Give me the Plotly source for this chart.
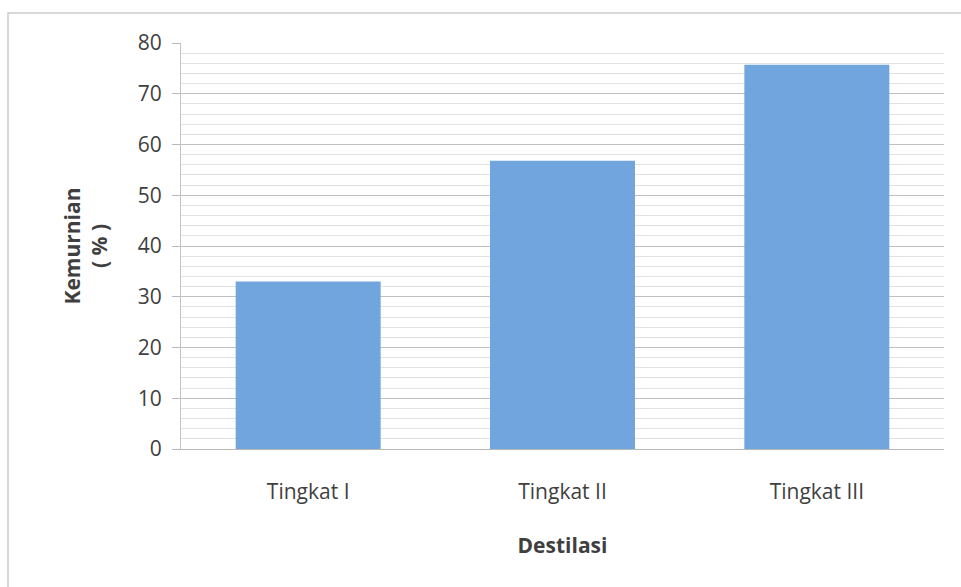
import plotly.graph_objects as go

categories = ["Tingkat I", "Tingkat II", "Tingkat III"]
kemurnian = [33.0, 56.8, 75.7]
y_ticks = [0, 10, 20, 30, 40, 50, 60, 70, 80]

W, H = 961, 587
fig = go.Figure()
fig.add_trace(go.Bar(
    x=categories, y=kemurnian,
    marker=dict(color="#71a5de", line=dict(width=0)),
    width=0.57,
))

font_family = "Open Sans, Liberation Sans, sans-serif"
txt = "#3f3f3f"
fig.update_layout(
    width=W, height=H,
    margin=dict(l=181, r=17, t=43, b=138),
    plot_bgcolor="white", paper_bgcolor="white",
    showlegend=False,
    font=dict(family=font_family, color=txt),
    xaxis=dict(
        showline=True, linecolor="#b8b8b8", linewidth=1,
        ticks="", tickfont=dict(size=21, color=txt),
        title=dict(text="<b>Destilasi</b>", font=dict(size=21, color=txt), standoff=34),
        ticklabelstandoff=24,
    ),
    yaxis=dict(
        range=[0, 80], tickvals=y_ticks,
        showline=True, linecolor="#c4c4c4", linewidth=1,
        ticks="outside", ticklen=8, tickcolor="#b8b8b8",
        tickfont=dict(size=21, color=txt),
        ticklabelstandoff=6,
        showgrid=True, gridcolor="#c0c0c0", gridwidth=1,
        minor=dict(dtick=2, showgrid=True, gridcolor="#e2e2e2", gridwidth=1, ticks=""),
        zeroline=False,
        title=dict(text="<b>Kemurnian<br>( % )</b>", font=dict(size=21, color=txt), standoff=24),
    ),
    shapes=[dict(
        type="rect", xref="paper", yref="paper",
        x0=(8 - 181) / (W - 181 - 17), x1=(970 - 181) / (W - 181 - 17),
        y0=(138 - 600) / (H - 43 - 138), y1=1 + (43 - 13) / (H - 43 - 138),
        line=dict(color="#cccccc", width=1.5), fillcolor="rgba(0,0,0,0)", layer="below",
    )],
)

fig.write_html("out.html")
